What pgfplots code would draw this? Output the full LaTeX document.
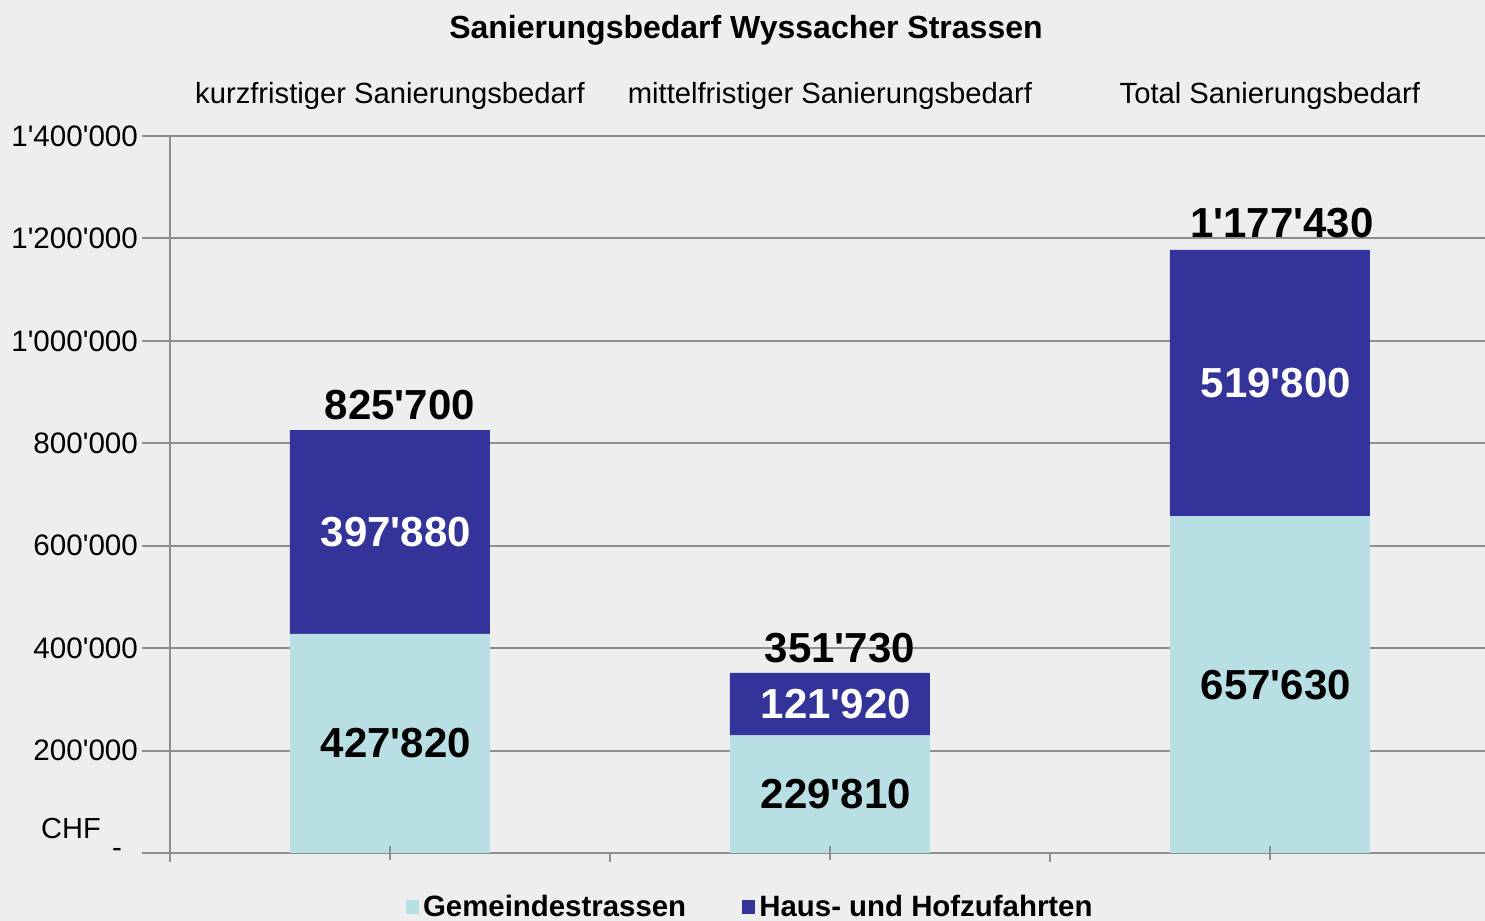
\documentclass[border=0pt]{standalone}
\usepackage{fontspec}
\setmainfont{Liberation Sans}
\usepackage{pgfplots}
\pgfplotsset{compat=1.18}
\definecolor{bg}{HTML}{EEEEEE}
\definecolor{hell}{HTML}{B8DFE3}
\definecolor{dunkel}{HTML}{333399}
\definecolor{gitter}{HTML}{8E8E8E}
\newcommand{\ap}{\textquotesingle}
\newcommand{\zahl}{\bfseries\fontsize{21}{24}\selectfont}
\newcommand{\klein}{\fontsize{14.5}{17}\selectfont}

\begin{document}
\begin{tikzpicture}
\path[use as bounding box, fill=bg] (-85pt,-34pt) rectangle (657.5pt,426.5pt);
\begin{axis}[at={(0,0)}, anchor=south west, scale only axis,
  width=657.5pt, height=358.5pt, clip=false,
  ybar stacked, bar width=100pt,
  xmin=-0.5, xmax=2.489, ymin=0, ymax=1400000,
  axis x line*=bottom, axis y line*=left,
  axis line style={draw=gitter, line width=1pt},
  ymajorgrids, grid style={draw=gitter, line width=1pt},
  tick align=outside, major tick length=14pt,
  tick style={draw=gitter, line width=1pt},
  scaled y ticks=false,
  ytick={0,200000,400000,600000,800000,1000000,1200000,1400000},
  yticklabels={-\rule{8pt}{0pt},200\ap000,400\ap000,600\ap000,800\ap000,1\ap000\ap000,1\ap200\ap000,1\ap400\ap000},
  yticklabel style={font=\fontsize{14.8}{17}\selectfont, xshift=1.5pt},
  xtick=\empty,
  extra x ticks={-0.5,0.5,1.5}, extra x tick labels={},
  extra x tick style={major tick length=4.5pt, grid=none},
  legend style={at={(axis description cs:0.442,-0.0753)}, anchor=center,
    draw=none, fill=none, legend columns=2, font=\bfseries\fontsize{14.7}{17}\selectfont,
    /tikz/every even column/.append style={column sep=26pt}},
  legend image code/.code={\fill[#1] (0pt,-3.3pt) rectangle (6.6pt,3.3pt);},
  after end axis/.code={
    \foreach \k in {0,1,2} {\draw[gitter, line width=1pt] (axis cs:\k,0) ++(0,3.5pt) -- ++(0,-7pt);}
    \node[font=\zahl, xshift=3pt] at (axis cs:0,213910) {427\ap820};
    \node[font=\zahl, xshift=3pt] at (axis cs:1,114905) {229\ap810};
    \node[font=\zahl, xshift=3pt] at (axis cs:2,328815) {657\ap630};
    \node[font=\zahl, text=white, xshift=3pt] at (axis cs:0,626760) {397\ap880};
    \node[font=\zahl, text=white, xshift=3pt] at (axis cs:1,290770) {121\ap920};
    \node[font=\zahl, text=white, xshift=3pt] at (axis cs:2,917530) {519\ap800};
    \node[font=\zahl, yshift=12.5pt, xshift=5pt] at (axis cs:0,825700) {825\ap700};
    \node[font=\zahl, yshift=12.5pt, xshift=5pt] at (axis cs:1,351730) {351\ap730};
    \node[font=\zahl, yshift=13.5pt, xshift=6pt] at (axis cs:2,1177430) {1\ap177\ap430};
  },
]
\addplot[fill=hell, draw=none] coordinates {(0,427820) (1,229810) (2,657630)};
\addlegendentry{Gemeindestrassen}
\addplot[fill=dunkel, draw=none] coordinates {(0,397880) (1,121920) (2,519800)};
\addlegendentry{Haus- und Hofzufahrten}

\node[font=\fontsize{14.6}{17}\selectfont, yshift=20pt] at (axis cs:0,1400000) {kurzfristiger Sanierungsbedarf};
\node[font=\fontsize{14.6}{17}\selectfont, yshift=20pt] at (axis cs:1,1400000) {mittelfristiger Sanierungsbedarf};
\node[font=\fontsize{14.6}{17}\selectfont, yshift=20pt] at (axis cs:2,1400000) {Total Sanierungsbedarf};
\end{axis}
\node[font=\bfseries\fontsize{16}{19}\selectfont] at (288pt,411.5pt) {Sanierungsbedarf Wyssacher Strassen};
\node[font=\klein] at (-49.5pt,12pt) {CHF};
\end{tikzpicture}
\end{document}
